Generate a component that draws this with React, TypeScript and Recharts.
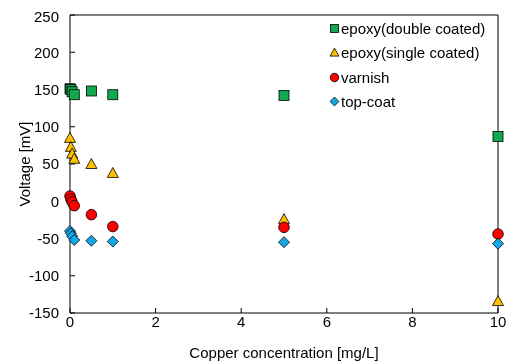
import React from "react";
import {
  Legend,
  ReferenceLine,
  Scatter,
  ScatterChart,
  XAxis,
  YAxis,
} from "recharts";

const FONT = '"Liberation Sans", Arial, sans-serif';

// copper concentration [mg/L] shared by all four coatings
const concentration = [0, 0.02, 0.05, 0.1, 0.5, 1, 5, 10];

// measured voltage [mV]
const epoxyDouble = [151, 150, 147, 143, 148, 143, 142, 87];
const epoxySingle = [85, 73, 64, 57, 50, 38, -24, -134];
const varnish = [7, 3, -1, -6, -18, -34, -35, -44];
const topCoat = [-40, -43, -47, -52, -53, -54, -55, -57];

const xTicks = [0, 2, 4, 6, 8, 10];
const yTicks = [-150, -100, -50, 0, 50, 100, 150, 200, 250];

const toPoints = (ys: number[]) =>
  concentration.map((x, i) => ({ x, y: ys[i] }));

type ShapeKind = "square" | "triangle" | "circle" | "diamond";

const series: { name: string; color: string; shape: ShapeKind; values: number[] }[] = [
  { name: "epoxy(double coated)", color: "#10a94f", shape: "square", values: epoxyDouble },
  { name: "epoxy(single coated)", color: "#ffc000", shape: "triangle", values: epoxySingle },
  { name: "varnish", color: "#ff0000", shape: "circle", values: varnish },
  { name: "top-coat", color: "#14a8e6", shape: "diamond", values: topCoat },
];

function Marker({ kind, cx, cy, color, s = 1 }: { kind: ShapeKind; cx: number; cy: number; color: string; s?: number }) {
  const common = { fill: color, stroke: "#000", strokeWidth: 0.8 };
  if (kind === "square") {
    const h = 5 * s;
    return <rect x={cx - h} y={cy - h} width={2 * h} height={2 * h} {...common} />;
  }
  if (kind === "triangle") {
    const w = 5.5 * s;
    return (
      <polygon
        points={`${cx},${cy - 5.5 * s} ${cx + w},${cy + 4.5 * s} ${cx - w},${cy + 4.5 * s}`}
        {...common}
      />
    );
  }
  if (kind === "circle") {
    return <circle cx={cx} cy={cy} r={5.3 * s} {...common} />;
  }
  const d = 5.5 * s;
  return (
    <polygon
      points={`${cx},${cy - d} ${cx + d},${cy} ${cx},${cy + d} ${cx - d},${cy}`}
      {...common}
    />
  );
}

function LegendBox() {
  return (
    <div style={{ fontFamily: FONT, fontSize: 15, color: "#000" }}>
      {series.map((s) => (
        <div key={s.name} style={{ display: "flex", alignItems: "center", height: 24.5 }}>
          <svg width={11} height={11} style={{ marginRight: 1 }}>
            <Marker kind={s.shape} cx={5.5} cy={5.5} color={s.color} s={0.8} />
          </svg>
          <span>{s.name}</span>
        </div>
      ))}
    </div>
  );
}

function YLabel({ viewBox }: any) {
  const x = viewBox.x + 16;
  const y = viewBox.y + viewBox.height / 2;
  return (
    <text
      x={x}
      y={y}
      transform={`rotate(-90, ${x}, ${y})`}
      textAnchor="middle"
      dominantBaseline="central"
      fontFamily={FONT}
      fontSize={15}
      fill="#000"
    >
      Voltage [mV]
    </text>
  );
}

export default function App() {
  const tickStyle = { fill: "#000", fontSize: 15, fontFamily: FONT };
  return (
    // fixed so the 501x354 chart never triggers page scrollbars
    <div style={{ position: "fixed", left: 8, top: 8, width: 501, height: 354 }}>
      <ScatterChart
        width={501}
        height={354}
        margin={{ top: 7, right: 11, left: 0, bottom: 0 }}
      >
        <XAxis
          type="number"
          dataKey="x"
          domain={[0, 10]}
          ticks={xTicks}
          height={49}
          tick={tickStyle}
          tickSize={-5}
          tickMargin={8}
          axisLine={{ stroke: "#000" }}
          tickLine={{ stroke: "#000" }}
          label={{
            value: "Copper concentration [mg/L]",
            position: "insideBottom",
            offset: 4,
            style: { fontFamily: FONT, fontSize: 15, fill: "#000" },
          }}
        />
        <YAxis
          type="number"
          dataKey="y"
          domain={[-150, 250]}
          ticks={yTicks}
          width={62}
          tick={tickStyle}
          tickSize={-5}
          tickMargin={16}
          axisLine={{ stroke: "#000" }}
          tickLine={{ stroke: "#000" }}
          label={{ content: YLabel }}
        />
        <ReferenceLine x={10} stroke="#000" />
        <ReferenceLine y={250} stroke="#000" />
        <Legend
          layout="vertical"
          align="center"
          verticalAlign="middle"
          content={LegendBox}
          wrapperStyle={{ top: 8, left: 321, width: 180 }}
        />
        {series.map((s) => (
          <Scatter
            key={s.name}
            name={s.name}
            data={toPoints(s.values)}
            fill={s.color}
            isAnimationActive={false}
            shape={(p: any) => (
              <Marker kind={s.shape} cx={p.cx} cy={p.cy} color={s.color} />
            )}
          />
        ))}
      </ScatterChart>
    </div>
  );
}
